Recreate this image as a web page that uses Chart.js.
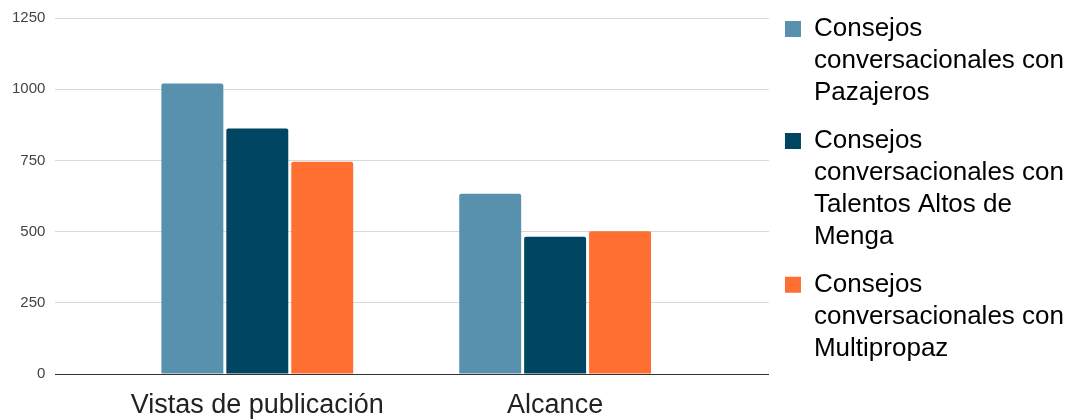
<!DOCTYPE html>
<html>
<head>
<meta charset="utf-8">
<script src="https://cdn.jsdelivr.net/npm/chart.js@4"></script>
<style>
  html, body { margin: 0; padding: 0; background: #fff; }
  #wrap { width: 1077px; height: 419px; }
</style>
</head>
<body>
<div id="wrap"><canvas id="chart"></canvas></div>
<script>
// categories and values
const categories = ['Vistas de publicación', 'Alcance'];
const seriesNames = [
  'Consejos conversacionales con Pazajeros',
  'Consejos conversacionales con Talentos Altos de Menga',
  'Consejos conversacionales con Multipropaz'
];
const legendLines = [
  ['Consejos', 'conversacionales con', 'Pazajeros'],
  ['Consejos', 'conversacionales con', 'Talentos Altos de', 'Menga'],
  ['Consejos', 'conversacionales con', 'Multipropaz']
];
const pazajeros = [1020, 633];
const talentos = [862, 482];
const multipropaz = [745, 501];
const yTicks = [0, 250, 500, 750, 1000, 1250];

const colors = ['#5891AD', '#004561', '#FF6F31'];
const seriesValues = [pazajeros, talentos, multipropaz];
const font = '"Liberation Sans", Arial, sans-serif';

const chart = new Chart(document.getElementById('chart'), {
  type: 'bar',
  data: {
    datasets: seriesValues.map((vals, k) => ({
      label: seriesNames[k],
      data: vals.map((v, i) => ({ x: i, y: v })),
      backgroundColor: colors[k],
      borderRadius: 2,
      barPercentage: 0.954,
      categoryPercentage: 0.654
    }))
  },
  options: {
    responsive: true,
    maintainAspectRatio: false,
    animation: false,
    // bottom < 0 lets the category labels sit low, like the original
    layout: { padding: { left: 2, right: 3, top: 0, bottom: -17.4 } },
    plugins: {
      tooltip: { enabled: false },
      legend: {
        position: 'right',
        align: 'start',
        maxWidth: 400,
        labels: {
          boxWidth: 16,
          boxHeight: 16,
          padding: 16,
          color: '#222',
          font: { family: font, size: 26, lineHeight: 1.23 },
          generateLabels: (c) => c.data.datasets.map((ds, k) => ({
            text: legendLines[k],
            fillStyle: ds.backgroundColor,
            strokeStyle: ds.backgroundColor,
            lineWidth: 0,
            hidden: false,
            datasetIndex: k
          }))
        }
      }
    },
    scales: {
      x: {
        type: 'linear',
        min: -0.678,
        max: 1.718,
        bounds: 'data',
        offset: false,
        afterBuildTicks: (s) => { s.ticks = categories.map((c, i) => ({ value: i })); },
        grid: { display: false, drawTicks: false },
        border: { display: true, color: '#333', width: 1 },
        ticks: {
          autoSkip: false,
          maxRotation: 0,
          minRotation: 0,
          padding: 15,
          color: '#222',
          font: { family: font, size: 27, lineHeight: 1.2 },
          callback: (v) => categories[v]
        }
      },
      y: {
        min: 0,
        max: 1250,
        afterBuildTicks: (s) => { s.ticks = yTicks.map(v => ({ value: v })); },
        grid: { color: '#d9d9d9', lineWidth: 1, drawTicks: false },
        border: { display: false },
        ticks: {
          padding: 10,
          color: '#444',
          font: { family: font, size: 15, lineHeight: 1.0667 },
          callback: (v) => String(v)
        }
      }
    }
  }
});
</script>
</body>
</html>
